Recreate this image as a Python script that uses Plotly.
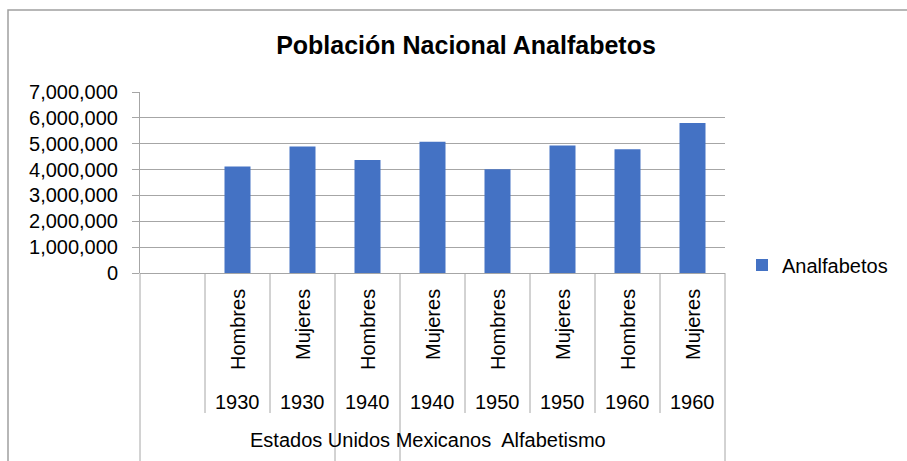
import plotly.graph_objects as go

# ---- data ----
years = ["1930", "1930", "1940", "1940", "1950", "1950", "1960", "1960"]
sexes = ["Hombres", "Mujeres", "Hombres", "Mujeres", "Hombres", "Mujeres", "Hombres", "Mujeres"]
analfabetos = [4120000, 4890000, 4370000, 5080000, 4010000, 4930000, 4790000, 5800000]
group_label = "Estados Unidos Mexicanos\u00a0 Alfabetismo"
series_name = "Analfabetos"
title_text = "Población Nacional Analfabetos"

# ---- layout geometry ----
W, H = 907, 461
ML, MR, MT, MB = 140, 182, 92, 188
PW = W - ML - MR
PH = H - MT - MB
n_slots = len(years) + 1          # first slot is empty, like the original
positions = [i + 1 for i in range(len(years))]

def px_x(px):
    return (px - ML) / PW

def px_y(py):
    return (H - MB - py) / PH

FONT = "Arial, Liberation Sans, sans-serif"
GRID = "#a6a6a6"
BAR = "#4472C4"

fig = go.Figure()
fig.add_trace(go.Bar(
    x=positions, y=analfabetos, name=series_name,
    marker=dict(color=BAR, line=dict(width=0)),
    width=0.4, showlegend=True, hoverinfo="skip",
))

shapes = []
# category separators
for k in range(n_slots + 1):
    full = k in (0, 3, 4, n_slots)
    shapes.append(dict(type="line", xref="paper", yref="paper",
                       x0=k / n_slots, x1=k / n_slots,
                       y0=0, y1=px_y(470) if full else px_y(413),
                       line=dict(color=GRID, width=1)))
# outer chart border
shapes.append(dict(type="rect", xref="paper", yref="paper",
                   x0=px_x(8), x1=px_x(915), y0=px_y(10), y1=px_y(470),
                   line=dict(color="#a0a0a0", width=1.5), fillcolor="rgba(0,0,0,0)"))

annotations = []
for p, s in zip(positions, sexes):
    annotations.append(dict(x=p, xref="x", y=px_y(287), yref="paper",
                            text=s, textangle=-90, showarrow=False,
                            xanchor="center", yanchor="top",
                            font=dict(family=FONT, size=20, color="#000000")))
for p, yr in zip(positions, years):
    annotations.append(dict(x=p, xref="x", y=px_y(401.5), yref="paper",
                            text=yr, showarrow=False,
                            xanchor="center", yanchor="middle",
                            font=dict(family=FONT, size=20, color="#000000")))
annotations.append(dict(x=px_x(428), xref="paper", y=px_y(440), yref="paper",
                        text=group_label, showarrow=False,
                        xanchor="center", yanchor="middle",
                        font=dict(family=FONT, size=20, color="#000000")))

fig.update_layout(
    width=W, height=H,
    margin=dict(l=ML, r=MR, t=MT, b=MB, pad=0),
    paper_bgcolor="white", plot_bgcolor="white",
    font=dict(family=FONT, size=20, color="#000000"),
    title=dict(text="<b>" + title_text + "</b>", x=466 / W, xref="container",
               xanchor="center", y=1 - 45.5 / H, yref="container", yanchor="middle",
               font=dict(family=FONT, size=25, color="#000000")),
    xaxis=dict(range=[0.5 - 1, n_slots - 0.5], showticklabels=False, showgrid=False,
               zeroline=False, showline=False, ticks="", fixedrange=True),
    yaxis=dict(range=[0, 7000000], dtick=1000000, tickformat=",",
               showgrid=True, gridcolor=GRID, gridwidth=1,
               zeroline=True, zerolinecolor=GRID, zerolinewidth=1,
               showline=True, linecolor=GRID, linewidth=1,
               ticks="outside", ticklen=7, tickcolor=GRID, tickwidth=1,
               ticklabelstandoff=10, fixedrange=True,
               tickfont=dict(family=FONT, size=20, color="#000000")),
    legend=dict(x=px_x(742), y=px_y(265), xanchor="left", yanchor="middle",
                font=dict(family=FONT, size=20, color="#000000"),
                bgcolor="rgba(0,0,0,0)"),
    shapes=shapes, annotations=annotations,
    showlegend=True,
)

fig.write_html("out.html", config={"displayModeBar": False},
               post_script="document.body.style.margin='0';document.body.style.overflow='hidden';")
